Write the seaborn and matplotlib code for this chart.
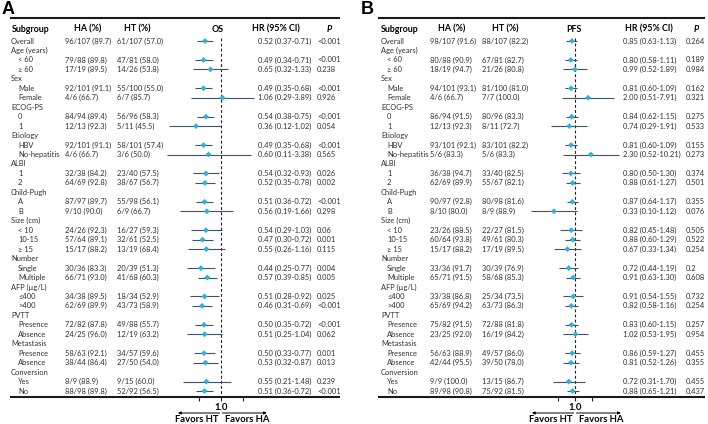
import numpy as np
import pandas as pd
import matplotlib
matplotlib.use("Agg")
import matplotlib.pyplot as plt
import matplotlib.transforms as mtransforms
import seaborn as sns

# ---- data -------------------------------------------------------------
row_labels = ["Overall", "Age (years)", "< 60", "\u2265 60", "Sex", "Male", "Female",
              "ECOG-PS", "0", "1", "Etiology", "HBV", "No-hepatitis", "ALBI", "1", "2",
              "Child-Pugh", "A", "B", "Size (cm)", "< 10", "10-15", "\u2265 15",
              "Number", "Single", "Multiple", "AFP (\u00b5g/L)", "\u2264400", ">400",
              "PVTT", "Presence", "Absence", "Metastasis", "Presence", "Absence",
              "Conversion", "Yes", "No"]
group_titles = ["Age (years)", "Sex", "ECOG-PS", "Etiology", "ALBI", "Child-Pugh",
                "Size (cm)", "Number", "AFP (\u00b5g/L)", "PVTT", "Metastasis", "Conversion"]

# OS (panel A)
os_ha = ["96/107 (89.7)", "79/88 (89.8)", "17/19 (89.5)", "92/101 (91.1)", "4/6 (66.7)",
         "84/94 (89.4)", "12/13 (92.3)", "92/101 (91.1)", "4/6 (66.7)", "32/38 (84.2)",
         "64/69 (92.8)", "87/97 (89.7)", "9/10 (90.0)", "24/26 (92.3)", "57/64 (89.1)",
         "15/17 (88.2)", "30/36 (83.3)", "66/71 (93.0)", "34/38 (89.5)", "62/69 (89.9)",
         "72/82 (87.8)", "24/25 (96.0)", "58/63 (92.1)", "38/44 (86.4)", "8/9 (88.9)",
         "88/98 (89.8)"]
os_ht = ["61/107 (57.0)", "47/81 (58.0)", "14/26 (53.8)", "55/100 (55.0)", "6/7 (85.7)",
         "56/96 (58.3)", "5/11 (45.5)", "58/101 (57.4)", "3/6 (50.0)", "23/40 (57.5)",
         "38/67 (56.7)", "55/98 (56.1)", "6/9 (66.7)", "16/27 (59.3)", "32/61 (52.5)",
         "13/19 (68.4)", "20/39 (51.3)", "41/68 (60.3)", "18/34 (52.9)", "43/73 (58.9)",
         "49/88 (55.7)", "12/19 (63.2)", "34/57 (59.6)", "27/50 (54.0)", "9/15 (60.0)",
         "52/92 (56.5)"]
os_hr = [0.52, 0.49, 0.65, 0.49, 1.06, 0.54, 0.36, 0.49, 0.60, 0.54, 0.52, 0.51, 0.56,
         0.54, 0.47, 0.55, 0.44, 0.57, 0.51, 0.46, 0.50, 0.51, 0.50, 0.53, 0.55, 0.51]
os_lo = [0.37, 0.34, 0.32, 0.35, 0.29, 0.38, 0.12, 0.35, 0.11, 0.32, 0.35, 0.36, 0.19,
         0.29, 0.30, 0.26, 0.25, 0.39, 0.28, 0.31, 0.35, 0.25, 0.33, 0.32, 0.21, 0.36]
os_hi = [0.71, 0.71, 1.33, 0.68, 3.89, 0.75, 1.02, 0.68, 3.38, 0.93, 0.78, 0.72, 1.66,
         1.03, 0.72, 1.16, 0.77, 0.85, 0.92, 0.69, 0.72, 1.04, 0.77, 0.87, 1.48, 0.72]
os_p = ["<0.001", "<0.001", "0.238", "<0.001", "0.926", "<0.001", "0.054", "<0.001",
        "0.565", "0.026", "0.002", "<0.001", "0.298", "0.06", "0.001", "0.115", "0.004",
        "0.005", "0.025", "<0.001", "<0.001", "0.062", "0.001", "0.013", "0.239", "<0.001"]

# PFS (panel B)
pfs_ha = ["98/107 (91.6)", "80/88 (90.9)", "18/19 (94.7)", "94/101 (93.1)", "4/6 (66.7)",
          "86/94 (91.5)", "12/13 (92.3)", "93/101 (92.1)", "5/6 (83.3)", "36/38 (94.7)",
          "62/69 (89.9)", "90/97 (92.8)", "8/10 (80.0)", "23/26 (88.5)", "60/64 (93.8)",
          "15/17 (88.2)", "33/36 (91.7)", "65/71 (91.5)", "33/38 (86.8)", "65/69 (94.2)",
          "75/82 (91.5)", "23/25 (92.0)", "56/63 (88.9)", "42/44 (95.5)", "9/9 (100.0)",
          "89/98 (90.8)"]
pfs_ht = ["88/107 (82.2)", "67/81 (82.7)", "21/26 (80.8)", "81/100 (81.0)", "7/7 (100.0)",
          "80/96 (83.3)", "8/11 (72.7)", "83/101 (82.2)", "5/6 (83.3)", "33/40 (82.5)",
          "55/67 (82.1)", "80/98 (81.6)", "8/9 (88.9)", "22/27 (81.5)", "49/61 (80.3)",
          "17/19 (89.5)", "30/39 (76.9)", "58/68 (85.3)", "25/34 (73.5)", "63/73 (86.3)",
          "72/88 (81.8)", "16/19 (84.2)", "49/57 (86.0)", "39/50 (78.0)", "13/15 (86.7)",
          "75/92 (81.5)"]
pfs_hr = [0.85, 0.80, 0.99, 0.81, 2.00, 0.84, 0.74, 0.81, 2.30, 0.80, 0.88, 0.87, 0.33,
          0.82, 0.88, 0.67, 0.72, 0.91, 0.91, 0.82, 0.83, 1.02, 0.86, 0.81, 0.72, 0.88]
pfs_lo = [0.63, 0.58, 0.52, 0.60, 0.51, 0.62, 0.29, 0.60, 0.52, 0.50, 0.61, 0.64, 0.10,
          0.45, 0.60, 0.33, 0.44, 0.63, 0.54, 0.58, 0.60, 0.53, 0.59, 0.52, 0.31, 0.65]
pfs_hi = [1.13, 1.11, 1.89, 1.09, 7.91, 1.15, 1.91, 1.09, 10.21, 1.30, 1.27, 1.17, 1.12,
          1.48, 1.29, 1.34, 1.19, 1.30, 1.55, 1.16, 1.15, 1.95, 1.27, 1.26, 1.70, 1.21]
pfs_p = ["0.264", "0.189", "0.984", "0.162", "0.321", "0.275", "0.533", "0.155", "0.273",
         "0.374", "0.501", "0.355", "0.076", "0.505", "0.522", "0.254", "0.2", "0.608",
         "0.732", "0.254", "0.257", "0.954", "0.455", "0.355", "0.455", "0.437"]

# ---- style ------------------------------------------------------------
sns.set_theme(style="white")
plt.rcParams["font.family"] = ["Lato", "DejaVu Sans"]

W, H = 708, 424
ROW0, ROWH = 41, 9.46          # pixel y of first row, row spacing
TOP_PX, BOT_PX = 18, 397
y_top = (TOP_PX - ROW0) / ROWH
y_bot = (BOT_PX - ROW0) / ROWH
y_head = (29 - ROW0) / ROWH

TXT = "#303030"
PT_COL = "#2fb0e0"
CI_COL = "#44525c"

fig = plt.figure(figsize=(W / 100, H / 100), dpi=100)
ax_tab = fig.add_axes([0, (H - BOT_PX) / H, 1, (BOT_PX - TOP_PX) / H])
ax_tab.set_xlim(0, W)
ax_tab.set_ylim(y_bot, y_top)
ax_tab.axis("off")

panels = [
    dict(tag="A", tag_x=2, title="OS", ha=os_ha, ht=os_ht, hr=os_hr, lo=os_lo, hi=os_hi, p=os_p,
         line=(10, 340), cat_x=11, sub_x=18, ha_x=65, ht_x=117, hr_x=258, p_x=317,
         h_sub=12, h_ha=87.5, h_ht=137, h_plot=218, h_hr=276, h_p=329,
         one_px=221, ppl=24.5),
    dict(tag="B", tag_x=361, title="PFS", ha=pfs_ha, ht=pfs_ht, hr=pfs_hr, lo=pfs_lo, hi=pfs_hi,
         p=pfs_p, line=(378, 705), cat_x=381, sub_x=387, ha_x=430, ht_x=482, hr_x=623, p_x=686,
         h_sub=381, h_ha=451.5, h_ht=505, h_plot=574, h_hr=649, h_p=696,
         one_px=575, ppl=19),
]

data_rows = [i for i, lab in enumerate(row_labels) if lab not in group_titles]
XMIN, XMAX = 0.05, 20.0

for P in panels:
    # panel letter
    fig.text(P["tag_x"] / W, 1 - 1 / H, P["tag"], ha="left", va="top", fontsize=13,
             fontweight="bold", family="Liberation Sans", color="black")
    # rules
    ax_tab.hlines([y_top, y_bot], P["line"][0], P["line"][1], color="#1a1a1a", lw=1.5,
                  clip_on=False)
    # header
    hk = dict(fontsize=6.4, fontweight="bold", va="center", color="black")
    ax_tab.text(P["h_sub"], y_head, "Subgroup", ha="left", **hk)
    ax_tab.text(P["h_ha"], y_head, "HA (%)", ha="center", **hk)
    ax_tab.text(P["h_ht"], y_head, "HT (%)", ha="center", **hk)
    ax_tab.text(P["h_plot"], y_head, P["title"], ha="center", **hk)
    ax_tab.text(P["h_hr"], y_head, "HR (95% CI)", ha="center", **hk)
    ax_tab.text(P["h_p"], y_head, "P", ha="center", style="italic", **hk)

    # subgroup labels
    tk = dict(fontsize=5.4, va="center", color=TXT)
    for i, lab in enumerate(row_labels):
        x = P["cat_x"] if (lab in group_titles or i == 0) else P["sub_x"]
        ax_tab.text(x, i, lab, ha="left", **tk)

    df = pd.DataFrame({"row": data_rows, "ha": P["ha"], "ht": P["ht"], "hr": P["hr"],
                       "lo": P["lo"], "hi": P["hi"], "p": P["p"]})
    for r in df.itertuples():
        ax_tab.text(P["ha_x"], r.row, r.ha, ha="left", **tk)
        ax_tab.text(P["ht_x"], r.row, r.ht, ha="left", **tk)
        ax_tab.text(P["hr_x"], r.row, f"{r.hr:.2f} ({r.lo:.2f}-{r.hi:.2f})", ha="left", **tk)
        ax_tab.text(P["p_x"], r.row, r.p, ha="left", **tk)

    # forest axes, log scale, placed so that 1.0 sits at one_px
    left = P["one_px"] - np.log(XMAX) * P["ppl"]
    width = (np.log(XMAX) - np.log(XMIN)) * P["ppl"]
    ax = fig.add_axes([left / W, (H - BOT_PX) / H, width / W, (BOT_PX - TOP_PX) / H])
    ax.patch.set_alpha(0)
    ax.set_xscale("log")
    ax.set_xlim(XMIN, XMAX)
    ax.set_ylim(y_bot, y_top)

    ax.vlines(1.0, (38 - ROW0) / ROWH, y_bot, colors="#222222", lw=0.8,
              linestyles=(0, (2.6, 2.0)), zorder=1)
    ax.hlines(df["row"], df["lo"], df["hi"], colors=CI_COL, lw=0.8, zorder=2)
    sns.scatterplot(data=df, x="hr", y="row", marker="D", s=9, color=PT_COL,
                    edgecolor="none", linewidth=0, zorder=3, legend=False, ax=ax)
    ax.set_ylim(y_bot, y_top)
    ax.set_xlabel("")
    ax.set_ylabel("")
    for s in ax.spines.values():
        s.set_visible(False)
    ax.set_yticks([])
    ax.set_xticks([0.4, 1.0, 2.5])
    ax.set_xticklabels(["", "1.0", ""], fontsize=6.9, fontweight="bold")
    ax.xaxis.set_minor_locator(matplotlib.ticker.NullLocator())
    ax.tick_params(axis="x", bottom=True, direction="out", length=3, width=0.8,
                   color="#222222", pad=1.2, labelcolor="black")

    trans = mtransforms.blended_transform_factory(ax.transData, ax.transAxes)
    y_arrow = -(413 - BOT_PX) / (BOT_PX - TOP_PX)
    y_fav = -(419.5 - BOT_PX) / (BOT_PX - TOP_PX)
    ak = dict(arrowstyle="<|-", lw=0.7, color="black", mutation_scale=4,
              shrinkA=0, shrinkB=1)
    ax.annotate("", xy=(1.0, y_arrow), xycoords=trans, xytext=(-31, 0),
                textcoords="offset points", arrowprops=ak, annotation_clip=False)
    ax.annotate("", xy=(1.0, y_arrow), xycoords=trans, xytext=(33, 0),
                textcoords="offset points", arrowprops=ak, annotation_clip=False)
    fk = dict(fontsize=6.8, fontweight="bold", va="center", color="black",
              xycoords=trans, textcoords="offset points", annotation_clip=False)
    ax.annotate("Favors HT", xy=(1.0, y_fav), xytext=(-2, 0), ha="right", **fk)
    ax.annotate("Favors HA", xy=(1.0, y_fav), xytext=(3, 0), ha="left", **fk)

fig.savefig("out.png", dpi=100)
